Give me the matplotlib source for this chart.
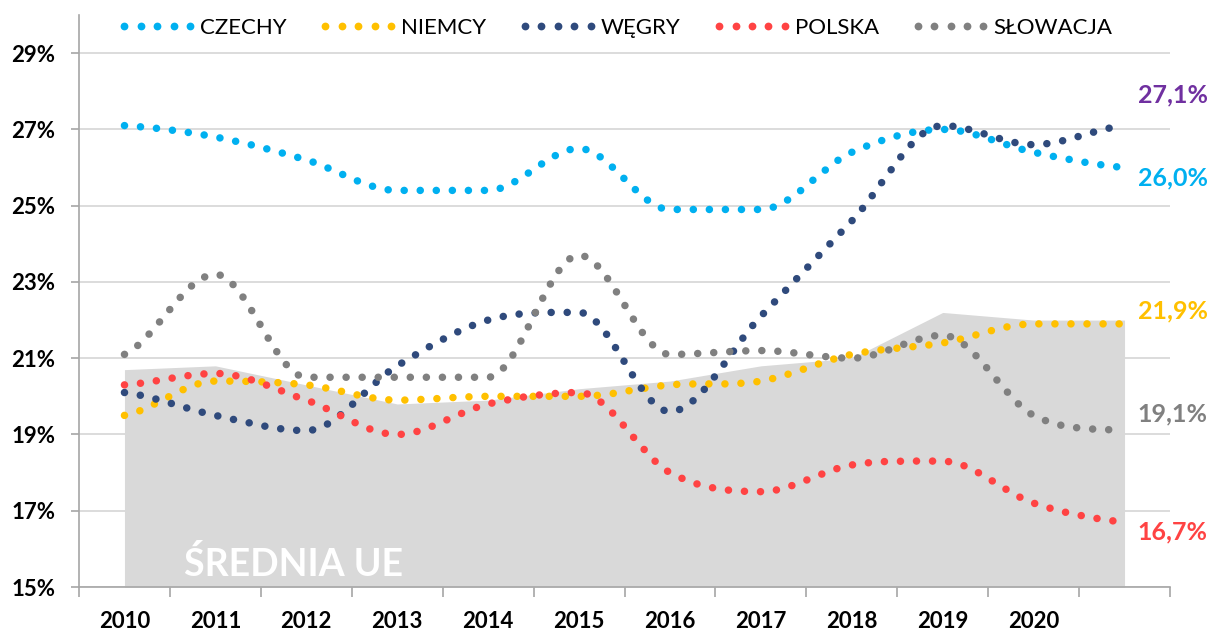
import matplotlib
matplotlib.use("Agg")
import matplotlib.pyplot as plt
import numpy as np
from matplotlib.path import Path
from matplotlib.patches import PathPatch
from matplotlib.lines import Line2D

plt.rcParams['font.family'] = ['Lato', 'DejaVu Sans']

# data
years = ['2010', '2011', '2012', '2013', '2014', '2015', '2016', '2017', '2018', '2019', '2020', '']
czechy = [27.1, 26.8, 26.2, 25.4, 25.4, 26.5, 24.9, 24.9, 26.4, 27.0, 26.4, 26.0]
niemcy = [19.5, 20.4, 20.3, 19.9, 20.0, 20.0, 20.3, 20.4, 21.1, 21.4, 21.9, 21.9]
wegry = [20.1, 19.5, 19.1, 20.8, 22.0, 22.2, 19.6, 22.1, 24.6, 27.1, 26.6, 27.1]
polska = [20.3, 20.6, 19.9, 19.0, 19.8, 20.1, 18.0, 17.5, 18.2, 18.3, 17.2, 16.7]
slowacja = [21.1, 23.2, 20.5, 20.5, 20.5, 23.7, 21.1, 21.2, 21.0, 21.6, 19.5, 19.1]
srednia_ue = [20.7, 20.8, 20.3, 19.8, 19.9, 20.2, 20.4, 20.8, 21.0, 22.2, 22.0, 22.0]

names = ['CZECHY', 'NIEMCY', 'WĘGRY', 'POLSKA', 'SŁOWACJA']
series = [czechy, niemcy, wegry, polska, slowacja]
colors = ['#00B0F0', '#FFC000', '#2F4A7C', '#FF4343', '#808080']
label_colors = ['#00B0F0', '#FFC000', '#7030A0', '#FF4343', '#808080']
label_dy = [-10, 13, 31, -10, 17]   # pixel offsets of end labels

LW = 5.4
DOTS = (0, (0.01, 2.13))


def smooth_path(xs, ys):
    # bezier curve through the points, flat tangent at extremes
    ys = np.asarray(ys, float)
    d = np.diff(ys)
    m = np.zeros(len(ys))
    m[0] = d[0] / 2
    m[-1] = d[-1] / 2
    for i in range(1, len(ys) - 1):
        if d[i - 1] * d[i] > 0:
            m[i] = (d[i - 1] + d[i]) / 2
    verts = [(xs[0], ys[0])]
    codes = [Path.MOVETO]
    for i in range(len(ys) - 1):
        verts += [(xs[i] + 1 / 3, ys[i] + m[i] / 3),
                  (xs[i + 1] - 1 / 3, ys[i + 1] - m[i + 1] / 3),
                  (xs[i + 1], ys[i + 1])]
        codes += [Path.CURVE4] * 3
    return Path(verts, codes)


fig = plt.figure(figsize=(12.13, 6.32), dpi=100)
ax = fig.add_axes([79 / 1213, 1 - 587 / 632, (1170 - 79) / 1213, (587 - 15) / 632])

x = np.arange(len(years))
ax.fill_between(x, 15, srednia_ue, color='#D9D9D9', lw=0, zorder=1)
ax.text(0.66, 15.6, 'ŚREDNIA UE', color='white', fontsize=27, fontweight='bold',
        ha='left', va='center', zorder=2)

for vals, col, lcol, dy in zip(series, colors, label_colors, label_dy):
    p = PathPatch(smooth_path(x, vals), fill=False, edgecolor=col, lw=LW,
                  linestyle=DOTS, capstyle='round', zorder=3)
    ax.add_patch(p)
    txt = f"{vals[-1]:.1f}".replace('.', ',') + '%'
    ax.annotate(txt, (x[-1], vals[-1]), xytext=(13, dy), textcoords='offset pixels',
                ha='left', va='center', color=lcol, fontsize=18, fontweight='bold',
                annotation_clip=False)

ax.set_xlim(-0.5, len(years) - 0.5)
ax.set_ylim(15, 30)
ax.set_yticks(np.arange(15, 30, 2))
ax.set_yticklabels([f'{v}%' for v in range(15, 30, 2)], fontsize=16, fontweight='bold')
ax.set_xticks(np.arange(-0.5, len(years), 1))
ax.set_xticklabels([])
ax.set_xticks(x, minor=True)
ax.set_xticklabels(years, minor=True, fontsize=16, fontweight='bold')
ax.tick_params(axis='x', which='major', length=7, color='#A6A6A6', width=1.2)
ax.tick_params(axis='x', which='minor', length=0, pad=17)
ax.tick_params(axis='y', length=6, color='#A6A6A6', width=1.2, pad=11)

ax.grid(axis='y', color='#D9D9D9', lw=1.3)
ax.set_axisbelow(True)
for s in ['top', 'right']:
    ax.spines[s].set_visible(False)
for s in ['left', 'bottom']:
    ax.spines[s].set_color('#A6A6A6')
    ax.spines[s].set_linewidth(1.2)

# legend: five round dots per entry
handles = [Line2D([], [], color=c, linestyle='none', marker='o', markersize=5.6,
                  markeredgewidth=0) for c in colors]
fig.legend(handles, names, loc='center', bbox_to_anchor=(615 / 1213, 1 - 28 / 632),
           ncol=5, frameon=False, fontsize=16, numpoints=5, handlelength=3.55,
           handletextpad=0.15, columnspacing=1.45)

fig.savefig('out.png', dpi=100)
